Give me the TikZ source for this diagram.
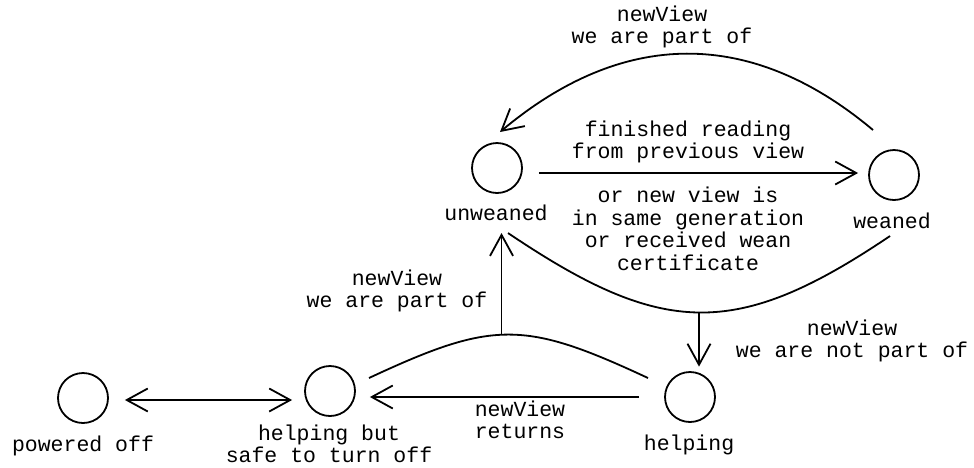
\documentclass[tikz,border=0pt]{standalone}
\usepackage{fontspec}
\setmainfont{Liberation Mono}
\usetikzlibrary{arrows.meta,calc}
\begin{document}
\begin{tikzpicture}[x=1pt,y=1pt,
  state/.style={draw,circle,minimum size=50pt,inner sep=0pt,line width=1.8pt},
  lbl/.style={font=\fontsize{21.5}{22.5}\selectfont,align=center,inner sep=0pt},
  edge/.style={line width=1.8pt},
  arr/.style={edge,-{Straight Barb[length=21pt,width=23pt]}},
  arrtwo/.style={edge,{Straight Barb[length=21pt,width=23pt]}-{Straight Barb[length=21pt,width=23pt]}}]
\useasboundingbox (0,0) rectangle (974,-467);
% states
\node[state] (unw) at (497,-168) {};
\node[state] (wea) at (894,-175) {};
\node[state] (pow) at (83,-398) {};
\node[state] (safe) at (330,-391) {};
\node[state] (help) at (690,-397) {};
% state labels
\node[lbl] (unwl) at (496,-213) {unweaned};
\node[lbl] (weal) at (892,-221) {weaned};
\node[lbl] (powl) at (83,-446) {powered off};
\node[lbl] (safel) at (329,-444) {helping but\\safe to turn off};
\node[lbl] (helpl) at (689,-445) {helping};
% edge labels
\node[lbl] (l1) at (662,-27) {newView\\we are part of};
\node[lbl] (l2) at (688,-142) {finished reading\\from previous view};
\node[lbl] (l3) at (688,-229) {or new view is\\in same generation\\or received wean\\certificate};
\node[lbl] (l4) at (852,-341) {newView\\we are not part of};
\node[lbl] (l5) at (397,-291) {newView\\we are part of};
\node[lbl] (l6) at (520,-420) {newView\\returns};
% connectors
\draw[arr] ($(unw.east)+(16,-5)$) -- ($(wea.west)+(-10,2)$);
\draw[arr] ($(wea.center)+(-21,45)$) .. controls +(140:160) and +(40:160) .. ($(unw.center)+(3,36)$);
\draw[edge] ($(unw.center)+(11,-65)$) .. controls +(-34:186) and +(-146:186) .. ($(wea.center)+(-4,-61)$) coordinate[pos=0.5] (m1);
\draw[arr,shorten >=4.5pt] (m1) -- (m1 |- help.north);
\draw[arr] ($(help.west)+(-25,0)$) -- ($(safe.east)+(14,-6)$);
\draw[edge] ($(help.center)+(-42,19)$) .. controls +(155:137) and +(25:137) .. ($(safe.center)+(39,13)$) coordinate[pos=0.53] (m2);
\coordinate (uwtip) at ($(unw.center)+(0,-65)$);
\draw[arr] (m2) -- (m2 |- uwtip);
\draw[arrtwo] ($(pow.east)+(16,-2)$) -- ($(safe.west)+(-12,-9)$);
\end{tikzpicture}
\end{document}
